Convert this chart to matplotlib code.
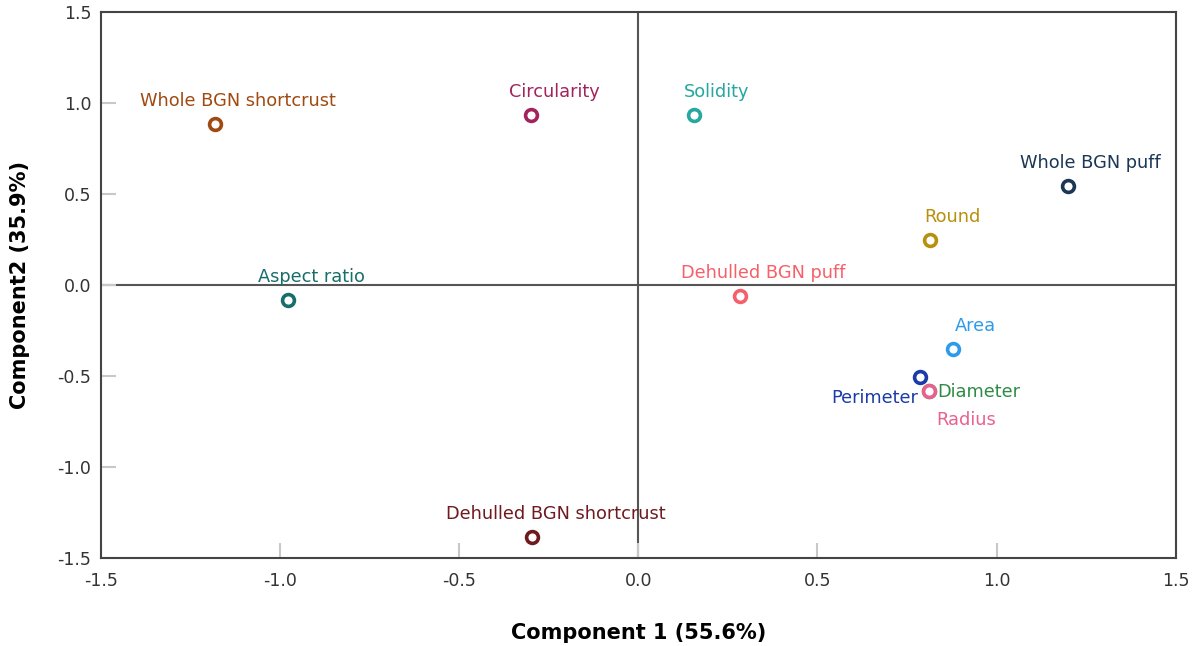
import matplotlib
matplotlib.use("Agg")
import matplotlib.pyplot as plt

plt.rcParams['font.family'] = ['DejaVu Sans']

# Component loadings / scores
labels = ["Whole BGN shortcrust", "Circularity", "Solidity", "Whole BGN puff",
          "Round", "Aspect ratio", "Dehulled BGN puff", "Area",
          "Perimeter", "Diameter", "Radius", "Dehulled BGN shortcrust"]
comp1 = [-1.182, -0.300, 0.155, 1.198, 0.813, -0.978, 0.283, 0.877,
         0.786, 0.810, 0.810, -0.296]
comp2 = [0.885, 0.934, 0.934, 0.544, 0.247, -0.082, -0.060, -0.350,
         -0.504, -0.581, -0.581, -1.386]
colors = ["#A04A12", "#A3235D", "#26A7A0", "#1B3756", "#B8900C", "#176E6A",
          "#F5606A", "#2E9BEA", "#1A3BA8", "#2E8B45", "#E8628E", "#6E1A1E"]

# label offsets in pixels (x, y) relative to each point, and alignment
label_pos = {
    "Perimeter": ((-2, -21), "right"),
    "Diameter": ((9, -1), "left"),
    "Radius": ((38, -29), "center"),
}

fig = plt.figure(figsize=(11.93, 6.46), dpi=100)
ax = fig.add_axes([0.0847, 0.1362, 0.9008, 0.8452])

ax.axhline(0, color="#555555", lw=1.5, zorder=1)
ax.axvline(0, color="#555555", lw=1.5, zorder=1)

for name, x, y, c in zip(labels, comp1, comp2, colors):
    ax.plot(x, y, marker="o", ms=8.5, mfc="white", mec=c, mew=2.6,
            ls="none", zorder=3)
    off, ha = label_pos.get(name, ((23, 23), "center"))
    ax.annotate(name, (x, y), xytext=off, textcoords="offset pixels",
                ha=ha, va="center", color=c, fontsize=12.8, zorder=4)

ax.set_xlim(-1.5, 1.5)
ax.set_ylim(-1.5, 1.5)
ticks = [-1.5, -1.0, -0.5, 0.0, 0.5, 1.0, 1.5]
ax.set_xticks(ticks)
ax.set_yticks(ticks)
ax.set_xticklabels([f"{t:.1f}" for t in ticks])
ax.set_yticklabels([f"{t:.1f}" for t in ticks])
ax.tick_params(direction="in", length=11, width=1.5, color="#c8c8c8",
               labelsize=12.5, labelcolor="#333333")
ax.tick_params(axis="x", pad=10)
ax.tick_params(axis="y", pad=7)

for s in ax.spines.values():
    s.set_color("#444444")
    s.set_linewidth(1.5)

ax.set_xlabel("Component 1 (55.6%)", fontsize=15, fontweight="bold",
              labelpad=24)
ax.set_ylabel("Component2 (35.9%)", fontsize=15, fontweight="bold",
              labelpad=20)

fig.savefig("out.png", dpi=100)
